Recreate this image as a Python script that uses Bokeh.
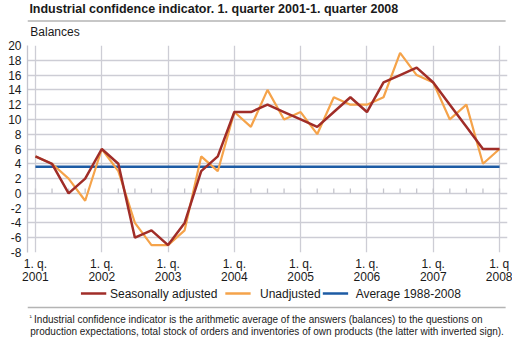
from bokeh.plotting import figure
from bokeh.models import FixedTicker, Range1d
from bokeh.layouts import column
from bokeh.core.properties import value
from bokeh.embed import file_html
from bokeh.resources import INLINE

# ---- data ----
quarters = list(range(29))  # 2001Q1 .. 2008Q1
seasonally_adjusted = [5, 4, 0, 2, 6, 4, -6, -5, -7, -4, 3, 5, 11, 11, 12, 11,
                       10, 9, 11, 13, 11, 15, 16, 17, 15, 12, 9, 6, 6]
unadjusted = [5, 4, 2, -1, 6, 3, -4, -7, -7, -5, 5, 3, 11, 9, 14, 10,
              11, 8, 13, 12, 12, 13, 19, 16, 15, 10, 12, 4, 6]
average_value = 3.6
average = [average_value] * len(quarters)
year_ticks = [0, 4, 8, 12, 16, 20, 24, 28]
year_labels = ["1. q.\n2001", "1. q.\n2002", "1. q.\n2003", "1. q.\n2004",
               "1. q.\n2005", "1. q.\n2006", "1. q.\n2007", "1. q\n2008"]
y_ticks = list(range(-8, 21, 2))
series_names = ["Seasonally adjusted", "Unadjusted", "Average 1988-2008"]
series_colors = ["#a02d28", "#f5a34a", "#1d5ba4"]

FONT = "Liberation Sans"
TXT = "#1a1a1a"
RULE = "#b4b4b4"
W = 512
TOP_H = 38          # canvas rows 0..38
MAIN_H = 248        # canvas rows 38..286
BOT_H = 338 - TOP_H - MAIN_H
FL, FR, FT, FB = 27, 507, 45, 252  # main frame edges in canvas px


def panel(y0, h):
    f = figure(width=W, height=h, output_backend="svg", toolbar_location=None,
               x_range=Range1d(0, W), y_range=Range1d(y0 + h, y0),
               min_border=0, min_border_left=0, min_border_right=0,
               min_border_top=0, min_border_bottom=0)
    f.axis.visible = False
    f.grid.visible = False
    f.outline_line_color = None
    f.background_fill_color = "white"
    f.border_fill_color = "white"
    return f


def txt(f, x, y, s, size="12px", bold=False):
    f.text(x=[x], y=[y], text=[s], text_font=value(FONT),
           text_font_size=value(size),
           text_font_style="bold" if bold else "normal",
           text_color=TXT, text_baseline="middle", text_align="left")


# ---- top panel: title + unit ----
top = panel(0, TOP_H)
txt(top, 2, 8, "Industrial confidence indicator. 1. quarter 2001-1. quarter 2008",
    size="12.5px", bold=True)
top.segment(x0=[0], y0=[20.5], x1=[510], y1=[20.5], line_color=RULE, line_width=1.5)
txt(top, 3, 31.5, "Balances")

# ---- main chart ----
p = figure(width=W, height=MAIN_H, output_backend="svg", toolbar_location=None,
           x_range=(-0.48, 28.48), y_range=(-8, 20),
           min_border_left=FL, min_border_right=W - FR,
           min_border_top=FT - TOP_H, min_border_bottom=TOP_H + MAIN_H - FB)
p.outline_line_color = None
p.background_fill_color = "white"
p.border_fill_color = "white"

p.ygrid.ticker = FixedTicker(ticks=y_ticks)
p.ygrid.grid_line_color = "#cdcdd5"
p.ygrid.grid_line_width = 1.3
p.xgrid.ticker = FixedTicker(ticks=year_ticks)
p.xgrid.grid_line_color = "#cdcdd5"
p.xgrid.grid_line_width = 1.3

p.yaxis.ticker = FixedTicker(ticks=y_ticks)
p.yaxis.major_label_overrides = {v: str(v) for v in y_ticks}
p.yaxis.axis_line_color = "#c4c4cc"
p.yaxis.axis_line_width = 1.3
p.yaxis.major_tick_line_color = None
p.yaxis.minor_tick_line_color = None
p.yaxis.major_tick_out = 0
p.yaxis.major_label_standoff = 6
p.yaxis.major_label_text_font = FONT
p.yaxis.major_label_text_font_size = "12px"
p.yaxis.major_label_text_color = TXT

p.xaxis.ticker = FixedTicker(ticks=year_ticks)
p.xaxis.major_label_overrides = dict(zip(year_ticks, year_labels))
p.xaxis.axis_line_color = None
p.xaxis.major_tick_line_color = None
p.xaxis.minor_tick_line_color = None
p.xaxis.major_tick_out = 0
p.xaxis.major_label_standoff = 4
p.xaxis.major_label_text_font = FONT
p.xaxis.major_label_text_font_size = "12px"
p.xaxis.major_label_text_color = TXT
p.xaxis.major_label_text_line_height = 0.95

# quarter ticks on the zero line
p.segment(x0=quarters, y0=[0] * len(quarters), x1=quarters,
          y1=[0.65] * len(quarters), line_color="#c4c4cc", line_width=1.3)

p.line(quarters, average, line_color=series_colors[2], line_width=2.5)
p.line(quarters, unadjusted, line_color=series_colors[1], line_width=2.2)
p.line(quarters, seasonally_adjusted, line_color=series_colors[0], line_width=2.5)

# ---- bottom panel: legend + footnote ----
bot = panel(TOP_H + MAIN_H, BOT_H)
leg_x = [57, 211, 315]
leg_tx = [88, 248, 350]
leg_y = 293
for name, color, lx, tx in zip(series_names, series_colors, leg_x, leg_tx):
    bot.segment(x0=[lx], y0=[leg_y], x1=[lx + 27], y1=[leg_y],
                line_color=color, line_width=2.5)
    txt(bot, tx, leg_y, name)
bot.segment(x0=[0], y0=[307], x1=[510], y1=[307], line_color=RULE, line_width=1.5)
txt(bot, 2, 315.5, "\u00b9", size="7px")
txt(bot, 7, 318.5, "Industrial confidence indicator is the arithmetic average of the answers (balances) to the questions on",
    size="10px")
txt(bot, 3, 330.5, "production expectations, total stock of orders and inventories of own products (the latter with inverted sign).",
    size="10px")

layout = column(top, p, bot, spacing=0)
open("out.html", "w").write(file_html(layout, INLINE))
